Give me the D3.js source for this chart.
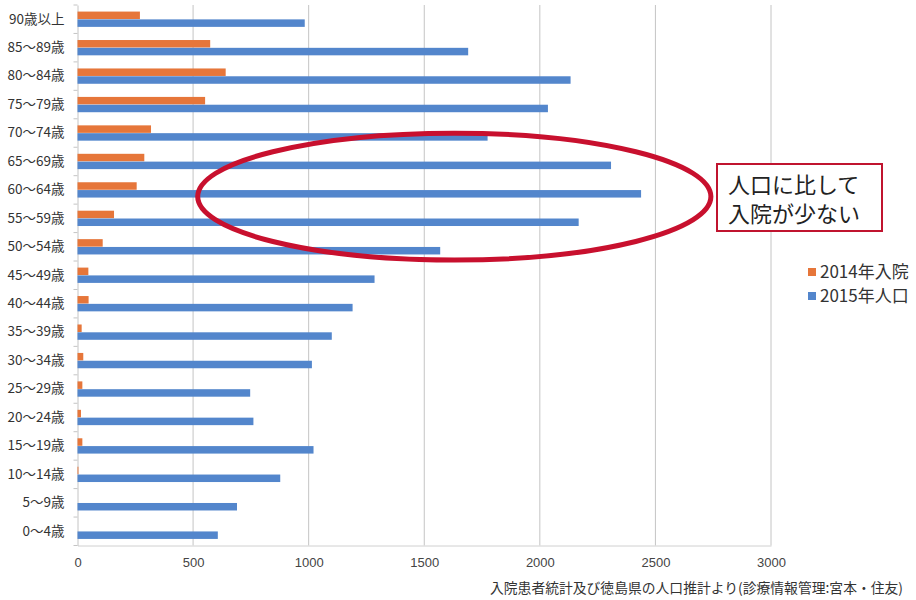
<!DOCTYPE html>
<html lang="ja">
<head>
<meta charset="utf-8">
<script src="https://cdn.jsdelivr.net/npm/d3@7"></script>
<style>
  html, body { margin: 0; padding: 0; background: #fff; }
  svg { display: block; font-family: "Noto Sans CJK JP", "Noto Sans", sans-serif; }
</style>
</head>
<body>
<svg id="chart" width="916" height="600"></svg>
<script>
// Age groups, listed top to bottom as drawn
const ageGroups = [
  "90歳以上", "85～89歳", "80～84歳", "75～79歳", "70～74歳", "65～69歳",
  "60～64歳", "55～59歳", "50～54歳", "45～49歳", "40～44歳", "35～39歳",
  "30～34歳", "25～29歳", "20～24歳", "15～19歳", "10～14歳", "5～9歳", "0～4歳"
];

// 2014 inpatients per age group
const inpatients2014 = [
  270, 574, 641, 552, 318, 289,
  256, 158, 109, 47, 48, 18,
  25, 21, 15, 21, 4, 0, 0
];

// 2015 population per age group
const population2015 = [
  983, 1690, 2133, 2035, 1774, 2308,
  2438, 2168, 1569, 1285, 1190, 1100,
  1014, 747, 761, 1021, 877, 690, 607
];

const seriesNames = ["2014年入院", "2015年人口"];
const seriesColors = ["#E6763A", "#5386CC"];
const xTicks = [0, 500, 1000, 1500, 2000, 2500, 3000];

const noteLines = ["人口に比して", "入院が少ない"];
const sourceText = "入院患者統計及び徳島県の人口推計より(診療情報管理:宮本・住友)";

const cjkFont = "'Noto Sans CJK JP', 'Noto Sans', sans-serif";
const svg = d3.select("#chart");

const plot = { left: 77.5, right: 771, top: 5, bottom: 545.5 };

const x = d3.scaleLinear().domain([0, 3000]).range([plot.left, plot.right]);
const y = d3.scaleBand().domain(ageGroups).range([plot.top, plot.bottom]).paddingInner(0.44).paddingOuter(0.22);
const ySub = d3.scaleBand().domain(seriesNames).range([0, y.bandwidth()]).padding(0.04);

// Vertical gridlines
svg.append("g")
  .selectAll("line")
  .data(xTicks.slice(1))
  .join("line")
  .attr("x1", d => x(d)).attr("x2", d => x(d))
  .attr("y1", plot.top).attr("y2", plot.bottom)
  .attr("stroke", "#c4c4c4").attr("stroke-width", 1);

// Bottom axis with labels only
const xAxis = svg.append("g")
  .attr("transform", `translate(0,${plot.bottom})`)
  .call(d3.axisBottom(x).tickValues(xTicks).tickFormat(d3.format("d")).tickSize(0).tickPadding(12));
xAxis.attr("font-size", null).attr("font-family", null);
xAxis.select(".domain").attr("stroke", "#d0d0d0");
xAxis.selectAll("text")
  .style("font-size", "13px").attr("fill", "#444")
  .style("font-family", "'Liberation Sans', 'Noto Sans', sans-serif");

// Left axis: category labels and separator ticks
const yAxis = svg.append("g")
  .attr("transform", `translate(${plot.left},0)`)
  .call(d3.axisLeft(y).tickSize(0).tickPadding(13));
yAxis.attr("font-size", null).attr("font-family", null);
yAxis.select(".domain").attr("stroke", "#c4c4c4");
yAxis.selectAll("text")
  .style("font-size", "13.5px").style("font-family", cjkFont).attr("fill", "#333");

const step = y.step();
svg.append("g")
  .selectAll("line")
  .data(d3.range(ageGroups.length + 1))
  .join("line")
  .attr("x1", plot.left - 4).attr("x2", plot.left)
  .attr("y1", i => plot.top + i * step).attr("y2", i => plot.top + i * step)
  .attr("stroke", "#c4c4c4");

// Bars
const rows = ageGroups.map((g, i) => ({ group: g, values: [inpatients2014[i], population2015[i]] }));

svg.append("g")
  .selectAll("g")
  .data(rows)
  .join("g")
  .attr("transform", d => `translate(0,${y(d.group)})`)
  .selectAll("rect")
  .data(d => d.values.map((v, k) => ({ series: seriesNames[k], value: v, color: seriesColors[k] })))
  .join("rect")
  .attr("x", x(0))
  .attr("y", d => ySub(d.series))
  .attr("width", d => x(d.value) - x(0))
  .attr("height", ySub.bandwidth())
  .attr("fill", d => d.color);

// Highlight ellipse around the 50–69 age groups
const ellLeft = x(520), ellRight = x(2740);
const ellCy = y("60～64歳") + y.bandwidth() * 0.92;
svg.append("ellipse")
  .attr("cx", (ellLeft + ellRight) / 2)
  .attr("cy", ellCy)
  .attr("rx", (ellRight - ellLeft) / 2)
  .attr("ry", step * 2.23)
  .attr("fill", "none")
  .attr("stroke", "#C8102E")
  .attr("stroke-width", 5);

// Note box
const note = svg.append("g").attr("transform", "translate(717,164)");
note.append("rect")
  .attr("width", 165).attr("height", 67)
  .attr("fill", "#fff").attr("stroke", "#C0142F").attr("stroke-width", 2);
note.selectAll("text")
  .data(noteLines)
  .join("text")
  .attr("x", 11)
  .attr("y", (d, i) => 29 + i * 29)
  .style("font-size", "22px")
  .attr("fill", "#222")
  .text(d => d);

// Legend
const legend = svg.append("g").attr("transform", "translate(808,268)");
const li = legend.selectAll("g")
  .data(seriesNames)
  .join("g")
  .attr("transform", (d, i) => `translate(0,${i * 24})`);
li.append("rect").attr("width", 8).attr("height", 8).attr("y", 0)
  .attr("fill", (d, i) => seriesColors[i]);
li.append("text")
  .attr("x", 12).attr("y", 9.5)
  .style("font-size", "17px").attr("fill", "#333")
  .text(d => d);

// Source note
svg.append("text")
  .attr("x", 903).attr("y", 593)
  .attr("text-anchor", "end")
  .style("font-size", "13.8px").attr("fill", "#333")
  .text(sourceText);
</script>
</body>
</html>
